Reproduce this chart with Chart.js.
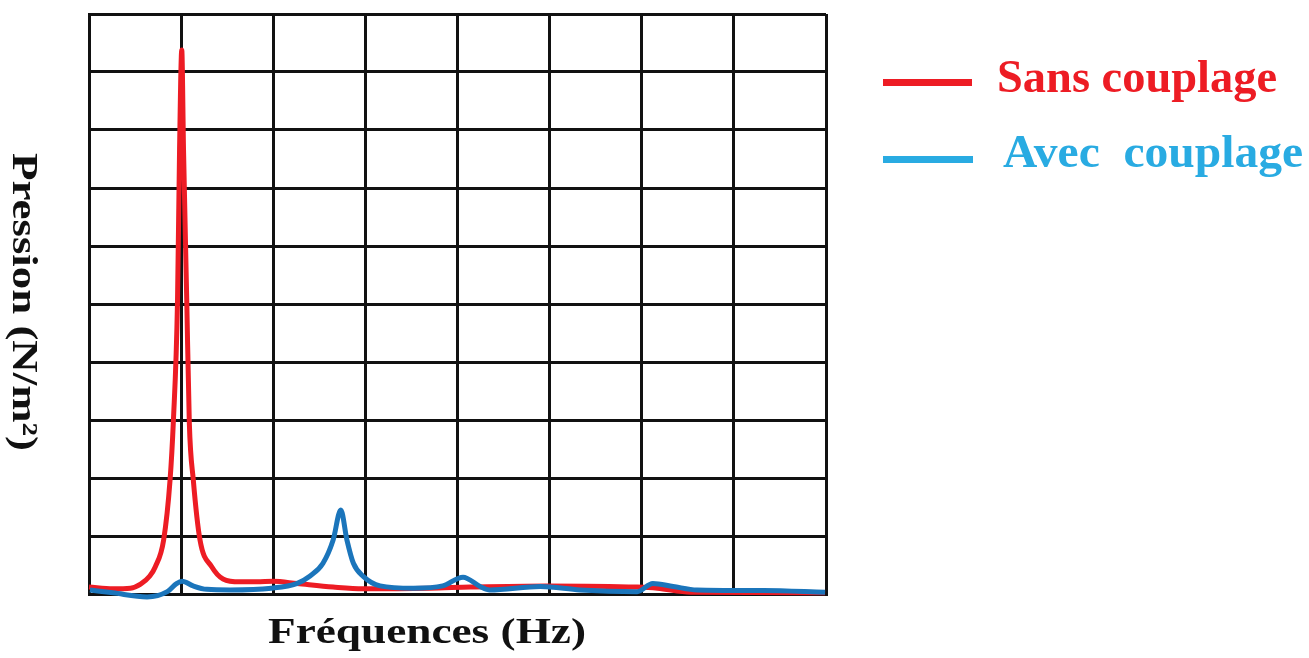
<!DOCTYPE html>
<html>
<head>
<meta charset="utf-8">
<script src="https://cdn.jsdelivr.net/npm/chart.js@4"></script>
<style>
  html, body { margin: 0; padding: 0; background: #ffffff; }
  #wrap { position: relative; width: 1309px; height: 658px; }
  canvas { display: block; }
</style>
</head>
<body>
<div id="wrap"><canvas id="c" width="1309" height="658"></canvas></div>
<script>
// ---- Data (x in grid units of frequency, y in grid units of pressure) ----
const sansX = [0.00, 0.26, 0.45, 0.56, 0.66, 0.72, 0.81, 0.88, 0.915, 0.961, 0.983, 1.007, 1.026, 1.061, 1.089, 1.132, 1.205, 1.332, 1.455, 1.64, 1.82, 2.00, 2.26, 2.65, 2.975, 3.70, 4.14, 4.97, 5.95, 6.17, 6.53, 7.99];
const sansY = [0.12, 0.09, 0.10, 0.17, 0.31, 0.47, 0.93, 1.97, 2.95, 5.07, 7.66, 9.38, 7.66, 5.07, 2.95, 1.97, 0.93, 0.47, 0.26, 0.21, 0.21, 0.22, 0.18, 0.12, 0.09, 0.10, 0.12, 0.14, 0.12, 0.10, 0.03, 0.02];

const avecX = [0.01, 0.26, 0.63, 0.85, 0.95, 1.01, 1.13, 1.28, 1.53, 1.98, 2.255, 2.40, 2.54, 2.65, 2.733, 2.80, 2.87, 2.98, 3.16, 3.52, 3.84, 4.06, 4.245, 4.35, 4.90, 5.33, 5.95, 6.12, 6.34, 6.60, 7.32, 7.99];
const avecY = [0.07, 0.02, -0.05, 0.04, 0.18, 0.22, 0.14, 0.08, 0.07, 0.10, 0.18, 0.31, 0.53, 0.93, 1.45, 0.93, 0.53, 0.30, 0.14, 0.10, 0.14, 0.29, 0.13, 0.07, 0.13, 0.07, 0.04, 0.18, 0.13, 0.07, 0.06, 0.03];

const seriesNames = ["Sans couplage", "Avec  couplage"];
const xAxisTitle = "Fréquences (Hz)";
const yAxisTitle = "Pression (N/m²)";
const xGridTicks = [0, 1, 2, 3, 4, 5, 6, 7, 8];
const yGridTicks = [0, 1, 2, 3, 4, 5, 6, 7, 8, 9, 10];

const RED = "#ED1C24";
const BLUE_LINE = "#1B75BB";
const BLUE_LEGEND = "#29ABE2";

function toPoints(xs, ys) { return xs.map((x, i) => ({ x: x, y: ys[i] })); }

function fitText(ctx, text, x, y, targetWidth) {
  const w = ctx.measureText(text).width;
  const s = targetWidth / w;
  ctx.save();
  ctx.translate(x, y);
  ctx.scale(s, 1);
  ctx.fillText(text, 0, 0);
  ctx.restore();
}

const decorPlugin = {
  id: 'decor',
  afterDraw(chart) {
    const ctx = chart.ctx;
    ctx.save();
    // Legend
    ctx.lineCap = 'butt';
    ctx.lineWidth = 7;
    ctx.strokeStyle = RED;
    ctx.beginPath(); ctx.moveTo(883, 82.5); ctx.lineTo(972, 82.5); ctx.stroke();
    ctx.strokeStyle = BLUE_LEGEND;
    ctx.beginPath(); ctx.moveTo(883, 159.5); ctx.lineTo(973, 159.5); ctx.stroke();

    ctx.textBaseline = 'alphabetic';
    ctx.textAlign = 'left';
    ctx.font = 'bold 46px "Liberation Serif", "DejaVu Serif", serif';
    ctx.fillStyle = RED;
    fitText(ctx, seriesNames[0], 997, 92, 280);
    ctx.fillStyle = BLUE_LEGEND;
    fitText(ctx, seriesNames[1], 1003, 167, 300);

    // Axis titles
    ctx.fillStyle = '#111111';
    ctx.font = 'bold 36px "Liberation Serif", "DejaVu Serif", serif';
    fitText(ctx, xAxisTitle, 268, 643, 318);

    ctx.save();
    ctx.translate(13, 153);
    ctx.rotate(Math.PI / 2);
    fitText(ctx, yAxisTitle, 0, 0, 298);
    ctx.restore();

    ctx.restore();
  }
};

new Chart(document.getElementById('c'), {
  type: 'line',
  data: {
    datasets: [
      {
        label: seriesNames[1],
        data: toPoints(avecX, avecY),
        borderColor: BLUE_LINE,
        borderWidth: 5,
        pointRadius: 0,
        cubicInterpolationMode: 'monotone',
        fill: false,
        clip: 6,
        order: 0
      },
      {
        label: seriesNames[0],
        data: toPoints(sansX, sansY),
        borderColor: RED,
        borderWidth: 5,
        pointRadius: 0,
        cubicInterpolationMode: 'monotone',
        fill: false,
        clip: 6,
        order: 1
      }
    ]
  },
  options: {
    responsive: false,
    animation: false,
    layout: { padding: { left: 89, top: 14, right: 483, bottom: 64 } },
    plugins: { legend: { display: false }, tooltip: { enabled: false } },
    scales: {
      x: {
        type: 'linear',
        min: 0, max: 8,
        z: 1,
        afterBuildTicks: (scale) => { scale.ticks = xGridTicks.map(v => ({ value: v })); },
        ticks: { display: false },
        grid: { color: '#111111', lineWidth: 3, drawTicks: false },
        border: { color: '#111111', width: 3 }
      },
      y: {
        type: 'linear',
        min: 0, max: 10,
        z: 1,
        afterBuildTicks: (scale) => { scale.ticks = yGridTicks.map(v => ({ value: v })); },
        ticks: { display: false },
        grid: { color: '#111111', lineWidth: 3, drawTicks: false },
        border: { color: '#111111', width: 3 }
      }
    }
  },
  plugins: [decorPlugin]
});
</script>
</body>
</html>
